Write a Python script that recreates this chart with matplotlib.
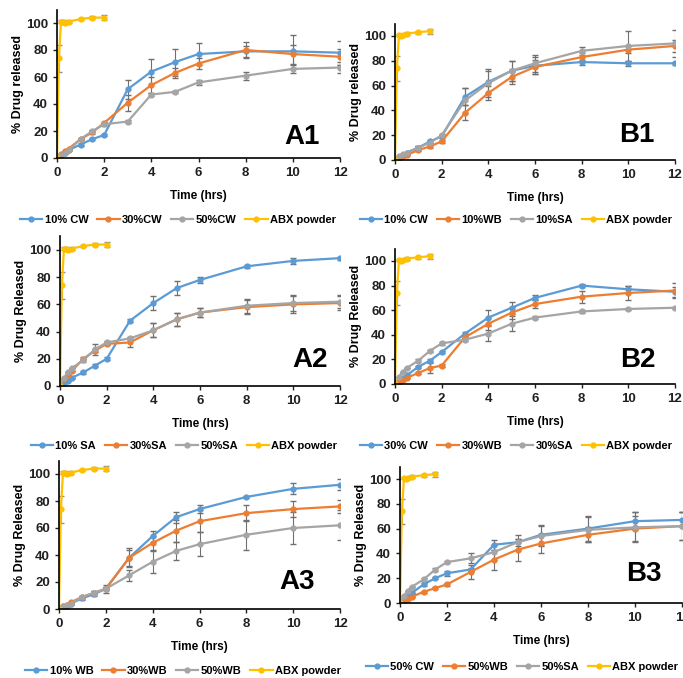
import matplotlib
matplotlib.use('Agg')
import matplotlib.pyplot as plt
from matplotlib.lines import Line2D

plt.rcParams['font.family'] = ['Liberation Sans', 'DejaVu Sans']
plt.rcParams['font.weight'] = 'bold'

# --- 데이터 ---
times = [0, 0.17, 0.33, 0.5, 1, 1.5, 2, 3, 4, 5, 6, 8, 10, 12]

abx_t_a = [0, 0.08, 0.17, 0.25, 0.33, 0.5, 1, 1.5, 2]
abx_a = [0, 74, 101, 101, 100, 101, 103, 104, 104]
abx_a_err = [0, 10, 1, 1, 1, 1, 1, 1, 2]
abx_t_b = [0, 0.08, 0.17, 0.25, 0.33, 0.5, 1, 1.5]
abx_b = [0, 74, 101, 100, 101, 102, 103, 104]
abx_b_err = [0, 10, 1, 1, 1, 1, 1, 2]

# A1
a1_cw10 = [0, 2, 4, 6, 10, 14, 17, 51, 64, 71, 77, 79, 79, 78]
a1_cw10_err = [0, 0, 0, 0, 1, 1, 1, 7, 9, 10, 8, 4, 12, 9]
a1_cw30 = [0, 3, 5, 7, 14, 19, 26, 41, 54, 63, 70, 80, 77, 75]
a1_cw30_err = [0, 0, 0, 0, 1, 1, 1, 6, 6, 4, 4, 6, 7, 6]
a1_cw50 = [0, 2, 4, 6, 14, 20, 25, 27, 47, 49, 56, 61, 66, 67]
a1_cw50_err = [0, 0, 0, 0, 1, 1, 1, 1, 1, 1, 2, 3, 3, 4]

# B1
b1_cw10 = [0, 2, 4, 6, 10, 15, 19, 51, 63, 72, 76, 79, 78, 78]
b1_cw10_err = [0, 0, 0, 0, 1, 1, 1, 7, 9, 8, 7, 2, 2, 1]
b1_wb10 = [0, 2, 3, 4, 8, 11, 15, 38, 54, 67, 75, 83, 89, 92]
b1_wb10_err = [0, 0, 0, 0, 1, 1, 1, 6, 6, 6, 6, 3, 3, 5]
b1_sa10 = [0, 3, 5, 6, 10, 14, 20, 48, 62, 72, 78, 88, 92, 94]
b1_sa10_err = [0, 0, 0, 0, 1, 1, 1, 10, 11, 8, 7, 3, 12, 11]

# A2
a2_sa10 = [0, 2, 4, 6, 10, 15, 20, 48, 61, 72, 78, 88, 92, 94]
a2_sa10_err = [0, 0, 0, 0, 1, 1, 1, 1, 5, 5, 2, 1, 2, 1]
a2_sa30 = [0, 5, 8, 11, 20, 26, 31, 32, 41, 49, 54, 58, 60, 61]
a2_sa30_err = [0, 0, 0, 0, 1, 1, 1, 3, 5, 5, 3, 5, 6, 5]
a2_sa50 = [0, 6, 10, 13, 19, 27, 32, 35, 41, 49, 54, 59, 61, 62]
a2_sa50_err = [0, 0, 0, 0, 1, 4, 1, 1, 5, 5, 3, 5, 6, 5]

# B2
b2_cw30 = [0, 2, 5, 7, 14, 19, 26, 41, 54, 62, 70, 80, 77, 75]
b2_cw30_err = [0, 0, 0, 0, 1, 1, 1, 1, 6, 5, 2, 1, 3, 4]
b2_wb30 = [0, 2, 3, 5, 9, 13, 15, 38, 49, 58, 65, 71, 74, 76]
b2_wb30_err = [0, 0, 0, 0, 1, 4, 1, 1, 5, 5, 3, 5, 6, 6]
b2_sa30 = [0, 6, 10, 13, 19, 27, 33, 36, 41, 49, 54, 59, 61, 62]
b2_sa30_err = [0, 0, 0, 0, 1, 1, 1, 1, 6, 6, 1, 1, 1, 1]

# A3
a3_wb10 = [0, 1, 2, 4, 8, 11, 15, 38, 54, 68, 74, 83, 89, 92]
a3_wb10_err = [0, 0, 0, 0, 1, 1, 3, 7, 4, 4, 3, 1, 4, 4]
a3_wb30 = [0, 2, 3, 5, 9, 12, 15, 38, 49, 58, 65, 71, 74, 76]
a3_wb30_err = [0, 0, 0, 0, 1, 1, 1, 6, 5, 8, 8, 6, 6, 5]
a3_wb50 = [0, 2, 3, 4, 9, 12, 15, 25, 35, 43, 48, 55, 60, 62]
a3_wb50_err = [0, 0, 0, 0, 1, 1, 1, 4, 8, 7, 9, 11, 12, 11]

# B3
b3_cw50 = [0, 3, 6, 8, 15, 20, 24, 27, 47, 49, 55, 60, 66, 67]
b3_cw50_err = [0, 0, 0, 0, 1, 1, 2, 1, 4, 3, 8, 10, 7, 6]
b3_wb50 = [0, 2, 3, 5, 9, 12, 15, 25, 35, 43, 48, 55, 60, 62]
b3_wb50_err = [0, 0, 0, 0, 1, 1, 1, 6, 8, 9, 8, 6, 10, 11]
b3_sa50 = [0, 6, 10, 13, 19, 27, 33, 36, 41, 49, 54, 59, 61, 62]
b3_sa50_err = [0, 0, 0, 0, 1, 1, 1, 4, 6, 6, 8, 10, 12, 11]

BLUE = '#5B9BD5'
ORANGE = '#ED7D31'
GRAY = '#A5A5A5'
YELLOW = '#FFC000'

W, H = 683, 678


def draw_panel(fig, rect, tag, tag_xy, ylabel, series, abx, legend_xy):
    ax = fig.add_axes(rect)
    colors = [BLUE, ORANGE, GRAY]
    handles = []
    for (label, vals, errs), c in zip(series, colors):
        ax.errorbar(times, vals, yerr=errs, color=c, marker='o', markersize=3.5,
                    linewidth=1.6, ecolor='#707070', elinewidth=0.8, capsize=2)
        handles.append(Line2D([], [], color=c, marker='o', markersize=3.5,
                              linewidth=1.6, label=label))
    t, v, e = abx
    ax.errorbar(t, v, yerr=e, color=YELLOW, marker='o', markersize=3.5,
                linewidth=1.6, ecolor='#909090', elinewidth=0.8, capsize=2)
    handles.append(Line2D([], [], color=YELLOW, marker='o', markersize=3.5,
                          linewidth=1.6, label='ABX powder'))
    ax.set_xlim(0, 12)
    ax.set_ylim(0, 110)
    ax.set_xticks(range(0, 13, 2))
    ax.set_yticks(range(0, 101, 20))
    for s in ['top', 'right']:
        ax.spines[s].set_visible(False)
    for s in ['left', 'bottom']:
        ax.spines[s].set_linewidth(1.2)
        ax.spines[s].set_color('black')
    ax.tick_params(labelsize=9.5, length=3, width=1, colors='#202020')
    ax.set_xlabel('Time (hrs)', fontsize=8.5, fontweight='bold', labelpad=8)
    ax.set_ylabel(ylabel, fontsize=9, fontweight='bold', labelpad=1)
    fig.text(tag_xy[0] / W, 1 - tag_xy[1] / H, tag, fontsize=20, fontweight='bold',
             ha='center', va='center')
    ax.legend(handles=handles, loc='center',
              bbox_to_anchor=(legend_xy[0] / W, 1 - legend_xy[1] / H),
              bbox_transform=fig.transFigure, ncol=4, frameon=False, fontsize=8,
              handlelength=2.0, handletextpad=0.2, columnspacing=0.8, borderpad=0)
    return ax


fig = plt.figure(figsize=(W / 100, H / 100), dpi=100)

draw_panel(fig, [57 / W, 1 - 158 / H, 283 / W, 148.5 / H], 'A1', (302, 137),
           '% Drug released',
           [('10% CW', a1_cw10, a1_cw10_err), ('30%CW', a1_cw30, a1_cw30_err),
            ('50%CW', a1_cw50, a1_cw50_err)],
           (abx_t_a, abx_a, abx_a_err), (178, 220))

draw_panel(fig, [395 / W, 1 - 160 / H, 280 / W, 136.4 / H], 'B1', (637, 135),
           '% Drug released',
           [('10% CW', b1_cw10, b1_cw10_err), ('10%WB', b1_wb10, b1_wb10_err),
            ('10%SA', b1_sa10, b1_sa10_err)],
           (abx_t_b, abx_b, abx_b_err), (516, 220))

draw_panel(fig, [60 / W, 1 - 386 / H, 280 / W, 149.6 / H], 'A2', (310, 360),
           '% Drug Released',
           [('10% SA', a2_sa10, a2_sa10_err), ('30%SA', a2_sa30, a2_sa30_err),
            ('50%SA', a2_sa50, a2_sa50_err)],
           (abx_t_a, abx_a, abx_a_err), (184, 446))

draw_panel(fig, [395 / W, 1 - 384 / H, 280 / W, 135.3 / H], 'B2', (638, 360),
           '% Drug Released',
           [('30% CW', b2_cw30, b2_cw30_err), ('30%WB', b2_wb30, b2_wb30_err),
            ('30%SA', b2_sa30, b2_sa30_err)],
           (abx_t_b, abx_b, abx_b_err), (516, 446))

draw_panel(fig, [59 / W, 1 - 609 / H, 281 / W, 148.5 / H], 'A3', (297, 582),
           '% Drug Released',
           [('10% WB', a3_wb10, a3_wb10_err), ('30%WB', a3_wb30, a3_wb30_err),
            ('50%WB', a3_wb50, a3_wb50_err)],
           (abx_t_a, abx_a, abx_a_err), (183, 671))

draw_panel(fig, [400 / W, 1 - 603 / H, 282 / W, 136.4 / H], 'B3', (644, 574),
           '% Drug Released',
           [('50% CW', b3_cw50, b3_cw50_err), ('50%WB', b3_wb50, b3_wb50_err),
            ('50%SA', b3_sa50, b3_sa50_err)],
           (abx_t_b, abx_b, abx_b_err), (522, 667))

fig.savefig('out.png', dpi=100)
